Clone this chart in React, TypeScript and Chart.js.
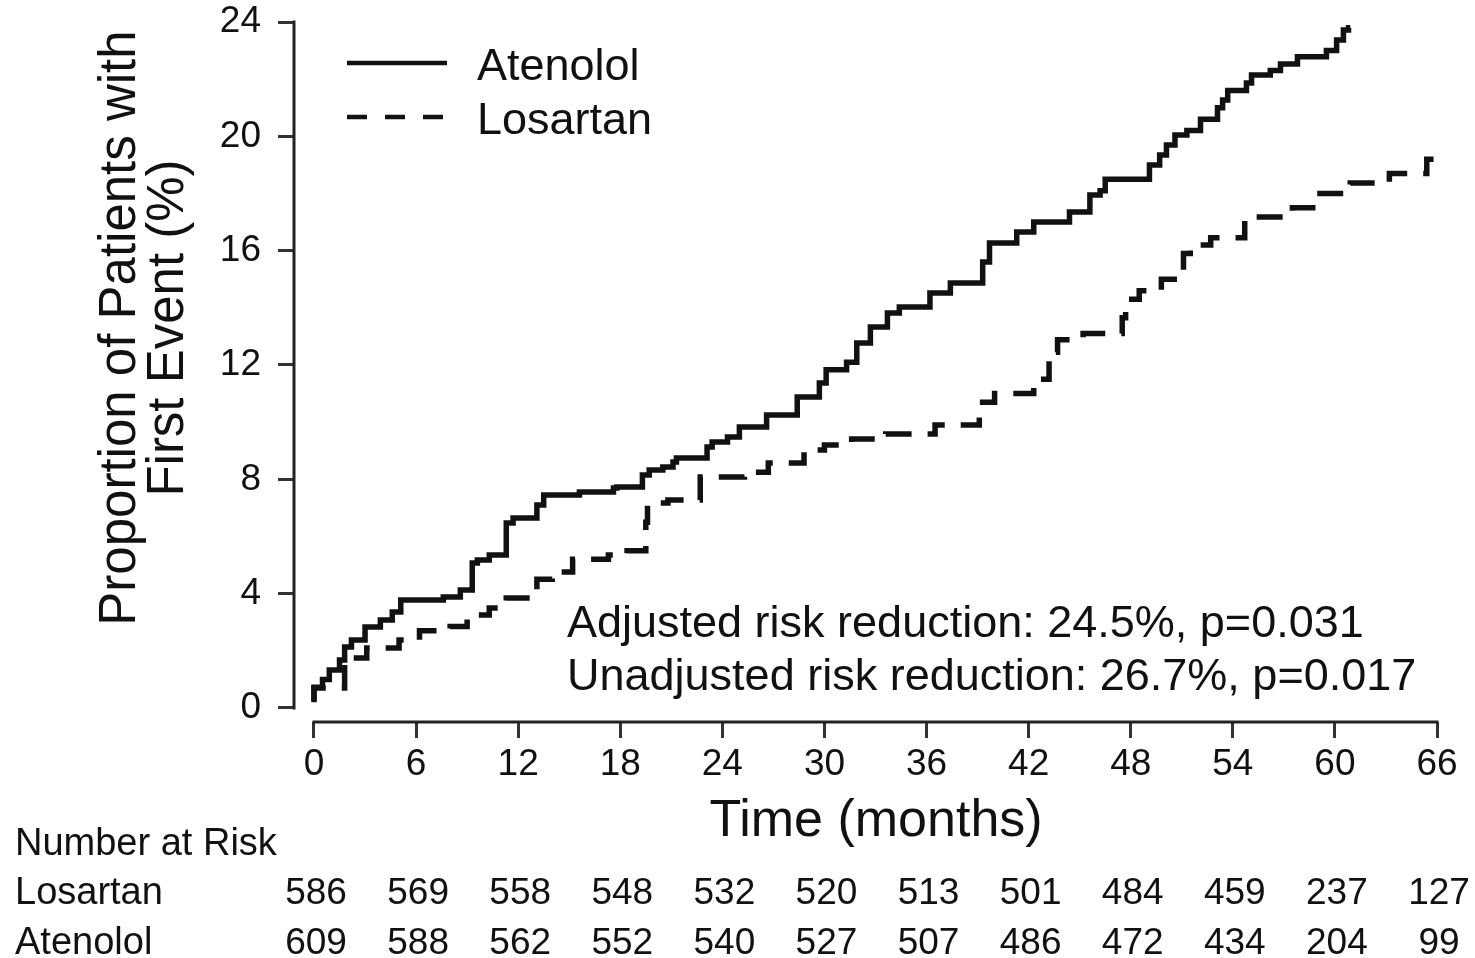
import React, { useEffect, useRef } from 'react';
import { Chart, registerables } from 'chart.js';

Chart.register(...registerables);

const FONT = "'Liberation Sans', Arial, Helvetica, sans-serif";

const xTicks = [0, 6, 12, 18, 24, 30, 36, 42, 48, 54, 60, 66];
const yTicks = [0, 4, 8, 12, 16, 20, 24];

const atenololTimes = [
  0, 0.5, 0.9, 1.5, 1.8, 2.2, 3.0, 3.9, 4.6, 5.1, 7.6, 8.6, 9.3, 9.6, 10.3, 11.3, 11.7, 13.1, 13.5,
  15.6, 17.6, 17.8, 19.3, 19.7, 20.5, 21.1, 21.3, 23.1, 23.4, 24.3, 25.0, 26.6, 28.4, 29.7, 30.1,
  31.3, 31.9, 32.7, 33.7, 34.4, 36.2, 37.4, 39.3, 39.7, 41.3, 42.3, 44.4, 45.6, 46.2, 46.5, 49.1,
  49.7, 50.1, 50.6, 51.3, 52.1, 53.1, 53.4, 53.7, 54.8, 55.1, 56.2, 56.8, 57.8, 59.5, 60.1, 60.5,
  60.8, 60.9,
];
const atenololValues = [
  0.25, 0.73, 1.0, 1.33, 1.68, 2.13, 2.38, 2.83, 3.08, 3.36, 3.78, 3.88, 4.13, 5.07, 5.18, 5.35, 6.47,
  6.65, 7.1, 7.45, 7.56, 7.7, 7.73, 8.15, 8.33, 8.43, 8.61, 8.75, 9.13, 9.31, 9.48, 9.83, 10.25, 10.88,
  11.37, 11.83, 12.1, 12.77, 13.33, 13.82, 14.03, 14.52, 14.87, 15.6, 16.27, 16.65, 17.0, 17.35, 17.95,
  18.1, 18.5, 19.0, 19.35, 19.7, 20.05, 20.2, 20.6, 21.0, 21.27, 21.6, 21.87, 22.15, 22.3, 22.53, 22.78,
  23.0, 23.37, 23.72, 23.8,
];

const losartanTimes = [
  0, 1.8, 3.1, 5.0, 6.2, 8.0, 9.0, 10.3, 11.3, 13.1, 14.0, 15.2, 17.3, 18.4, 19.5, 19.6, 20.8, 22.7,
  25.3, 26.7, 28.8, 30.0, 31.6, 33.6, 36.5, 39.1, 40.0, 42.3, 43.2, 43.7, 45.2, 47.5, 47.7, 48.5, 49.8,
  51.1, 51.5, 52.7, 54.7, 57.5, 58.9, 60.9, 63.2, 65.4, 65.7, 65.8,
];
const losartanValues = [
  0.2, 0.7, 1.75, 2.1, 2.38, 2.7, 2.85, 3.25, 3.5, 3.85, 4.5, 4.76, 5.2, 5.35, 5.5, 6.5, 7.17, 7.28,
  8.08, 8.25, 8.57, 9.03, 9.2, 9.41, 9.59, 9.9, 10.7, 11.0, 11.5, 12.45, 12.88, 13.1, 13.65, 14.3, 14.6,
  15.0, 15.9, 16.2, 16.45, 17.18, 17.5, 18.0, 18.37, 18.7, 19.2, 19.2,
];

const losartanAtRisk = [586, 569, 558, 548, 532, 520, 513, 501, 484, 459, 237, 127];
const atenololAtRisk = [609, 588, 562, 552, 540, 527, 507, 486, 472, 434, 204, 99];

const seriesNames = ['Atenolol', 'Losartan'];
const annotationLines = [
  'Adjusted risk reduction: 24.5%, p=0.031',
  'Unadjusted risk reduction: 26.7%, p=0.017',
];
const yTitleLines = ['Proportion of Patients with', 'First Event (%)'];
const xTitle = 'Time (months)';
const riskHeader = 'Number at Risk';

const X_MIN = -1.1754;
const Y_MIN = -0.4898;

const toPoints = (t: number[], v: number[]) => t.map((x, i) => ({ x, y: v[i] }));

const decorPlugin = {
  id: 'decor',
  afterDraw(chart: any) {
    const { ctx, chartArea } = chart;
    const xs = chart.scales.x;
    const ys = chart.scales.y;
    ctx.save();

    // axis lines (offset style)
    ctx.strokeStyle = '#222';
    ctx.lineWidth = 3;
    ctx.lineCap = 'butt';
    ctx.beginPath();
    ctx.moveTo(chartArea.left, ys.getPixelForValue(24) - 1.5);
    ctx.lineTo(chartArea.left, ys.getPixelForValue(0) + 1.5);
    ctx.stroke();
    ctx.beginPath();
    ctx.moveTo(xs.getPixelForValue(0) - 1.5, chartArea.bottom);
    ctx.lineTo(xs.getPixelForValue(66) + 1.5, chartArea.bottom);
    ctx.stroke();

    ctx.fillStyle = '#111';

    // legend
    const ds = chart.data.datasets;
    const legendX = 347;
    const legendLen = 100;
    const legendY = [63, 117];
    ds.forEach((d: any, i: number) => {
      ctx.save();
      ctx.strokeStyle = d.borderColor;
      ctx.lineWidth = 4.5;
      ctx.setLineDash(d.borderDash && d.borderDash.length ? [20, 18] : []);
      ctx.beginPath();
      ctx.moveTo(legendX, legendY[i]);
      ctx.lineTo(legendX + legendLen, legendY[i]);
      ctx.stroke();
      ctx.restore();
      ctx.font = `45px ${FONT}`;
      ctx.textAlign = 'left';
      ctx.textBaseline = 'alphabetic';
      ctx.fillText(d.label, 477, legendY[i] + 17);
    });

    // annotation
    ctx.font = `45px ${FONT}`;
    ctx.textAlign = 'left';
    ctx.textBaseline = 'alphabetic';
    annotationLines.forEach((line, i) => ctx.fillText(line, 567, 637 + i * 53));

    // x title
    ctx.font = `52px ${FONT}`;
    ctx.textAlign = 'center';
    ctx.fillText(xTitle, 876, 836);

    // y title
    ctx.save();
    ctx.font = `51px ${FONT}`;
    ctx.textAlign = 'center';
    ctx.textBaseline = 'alphabetic';
    const yMid = 328;
    [135, 183].forEach((bx, i) => {
      ctx.save();
      ctx.translate(bx, yMid);
      ctx.rotate(-Math.PI / 2);
      ctx.fillText(yTitleLines[i], 0, 0);
      ctx.restore();
    });
    ctx.restore();

    // number at risk table
    ctx.font = `38px ${FONT}`;
    ctx.textAlign = 'left';
    ctx.fillText(riskHeader, 15, 855);
    ctx.fillText(seriesNames[1], 15, 904);
    ctx.fillText(seriesNames[0], 15, 954);
    ctx.font = `37px ${FONT}`;
    ctx.textAlign = 'center';
    xTicks.forEach((t, i) => {
      const px = xs.getPixelForValue(t) + 2;
      ctx.fillText(String(losartanAtRisk[i]), px, 904);
      ctx.fillText(String(atenololAtRisk[i]), px, 954);
    });

    ctx.restore();
  },
};

export default function App() {
  const ref = useRef<HTMLCanvasElement | null>(null);

  useEffect(() => {
    if (!ref.current) return;
    const chart = new Chart(ref.current, {
      type: 'line',
      data: {
        datasets: [
          {
            label: seriesNames[0],
            data: toPoints(atenololTimes, atenololValues),
            borderColor: '#111',
            borderWidth: 5.5,
            stepped: 'after',
            pointRadius: 0,
            fill: false,
            borderJoinStyle: 'miter',
          },
          {
            label: seriesNames[1],
            data: toPoints(losartanTimes, losartanValues),
            borderColor: '#111',
            borderWidth: 5.5,
            borderDash: [26, 16],
            stepped: 'after',
            pointRadius: 0,
            fill: false,
            borderJoinStyle: 'miter',
          },
        ],
      },
      options: {
        animation: false,
        responsive: false,
        maintainAspectRatio: false,
        layout: { padding: { top: 22, right: 38, left: 0, bottom: 0 } },
        plugins: { legend: { display: false }, tooltip: { enabled: false } },
        scales: {
          x: {
            type: 'linear',
            min: X_MIN,
            max: 66,
            afterBuildTicks: (s: any) => {
              s.ticks = xTicks.map((v) => ({ value: v }));
            },
            afterFit: (s: any) => {
              s.height = 236;
              s.paddingLeft = 0;
              s.paddingRight = 0;
              s.paddingTop = 0;
              s.paddingBottom = 0;
            },
            grid: { drawOnChartArea: false, drawTicks: true, tickLength: 16, color: '#333', lineWidth: 3 },
            border: { display: false },
            ticks: {
              font: { family: FONT, size: 37 },
              color: '#111',
              padding: 5,
              maxRotation: 0,
              autoSkip: false,
            },
          },
          y: {
            type: 'linear',
            min: Y_MIN,
            max: 24,
            afterBuildTicks: (s: any) => {
              s.ticks = yTicks.map((v) => ({ value: v }));
            },
            afterFit: (s: any) => {
              s.width = 294;
              s.paddingLeft = 0;
              s.paddingRight = 0;
              s.paddingTop = 0;
              s.paddingBottom = 0;
            },
            grid: { drawOnChartArea: false, drawTicks: true, tickLength: 16, color: '#333', lineWidth: 3 },
            border: { display: false },
            ticks: {
              font: { family: FONT, size: 37 },
              color: '#111',
              padding: 17,
              autoSkip: false,
            },
          },
        },
      },
      plugins: [decorPlugin],
    } as any);
    return () => chart.destroy();
  }, []);

  return (
    <div style={{ position: 'absolute', left: 0, top: 0, width: 1475, height: 958, background: '#fff' }}>
      <canvas ref={ref} width={1475} height={958} style={{ display: 'block', width: 1475, height: 958 }} />
    </div>
  );
}
